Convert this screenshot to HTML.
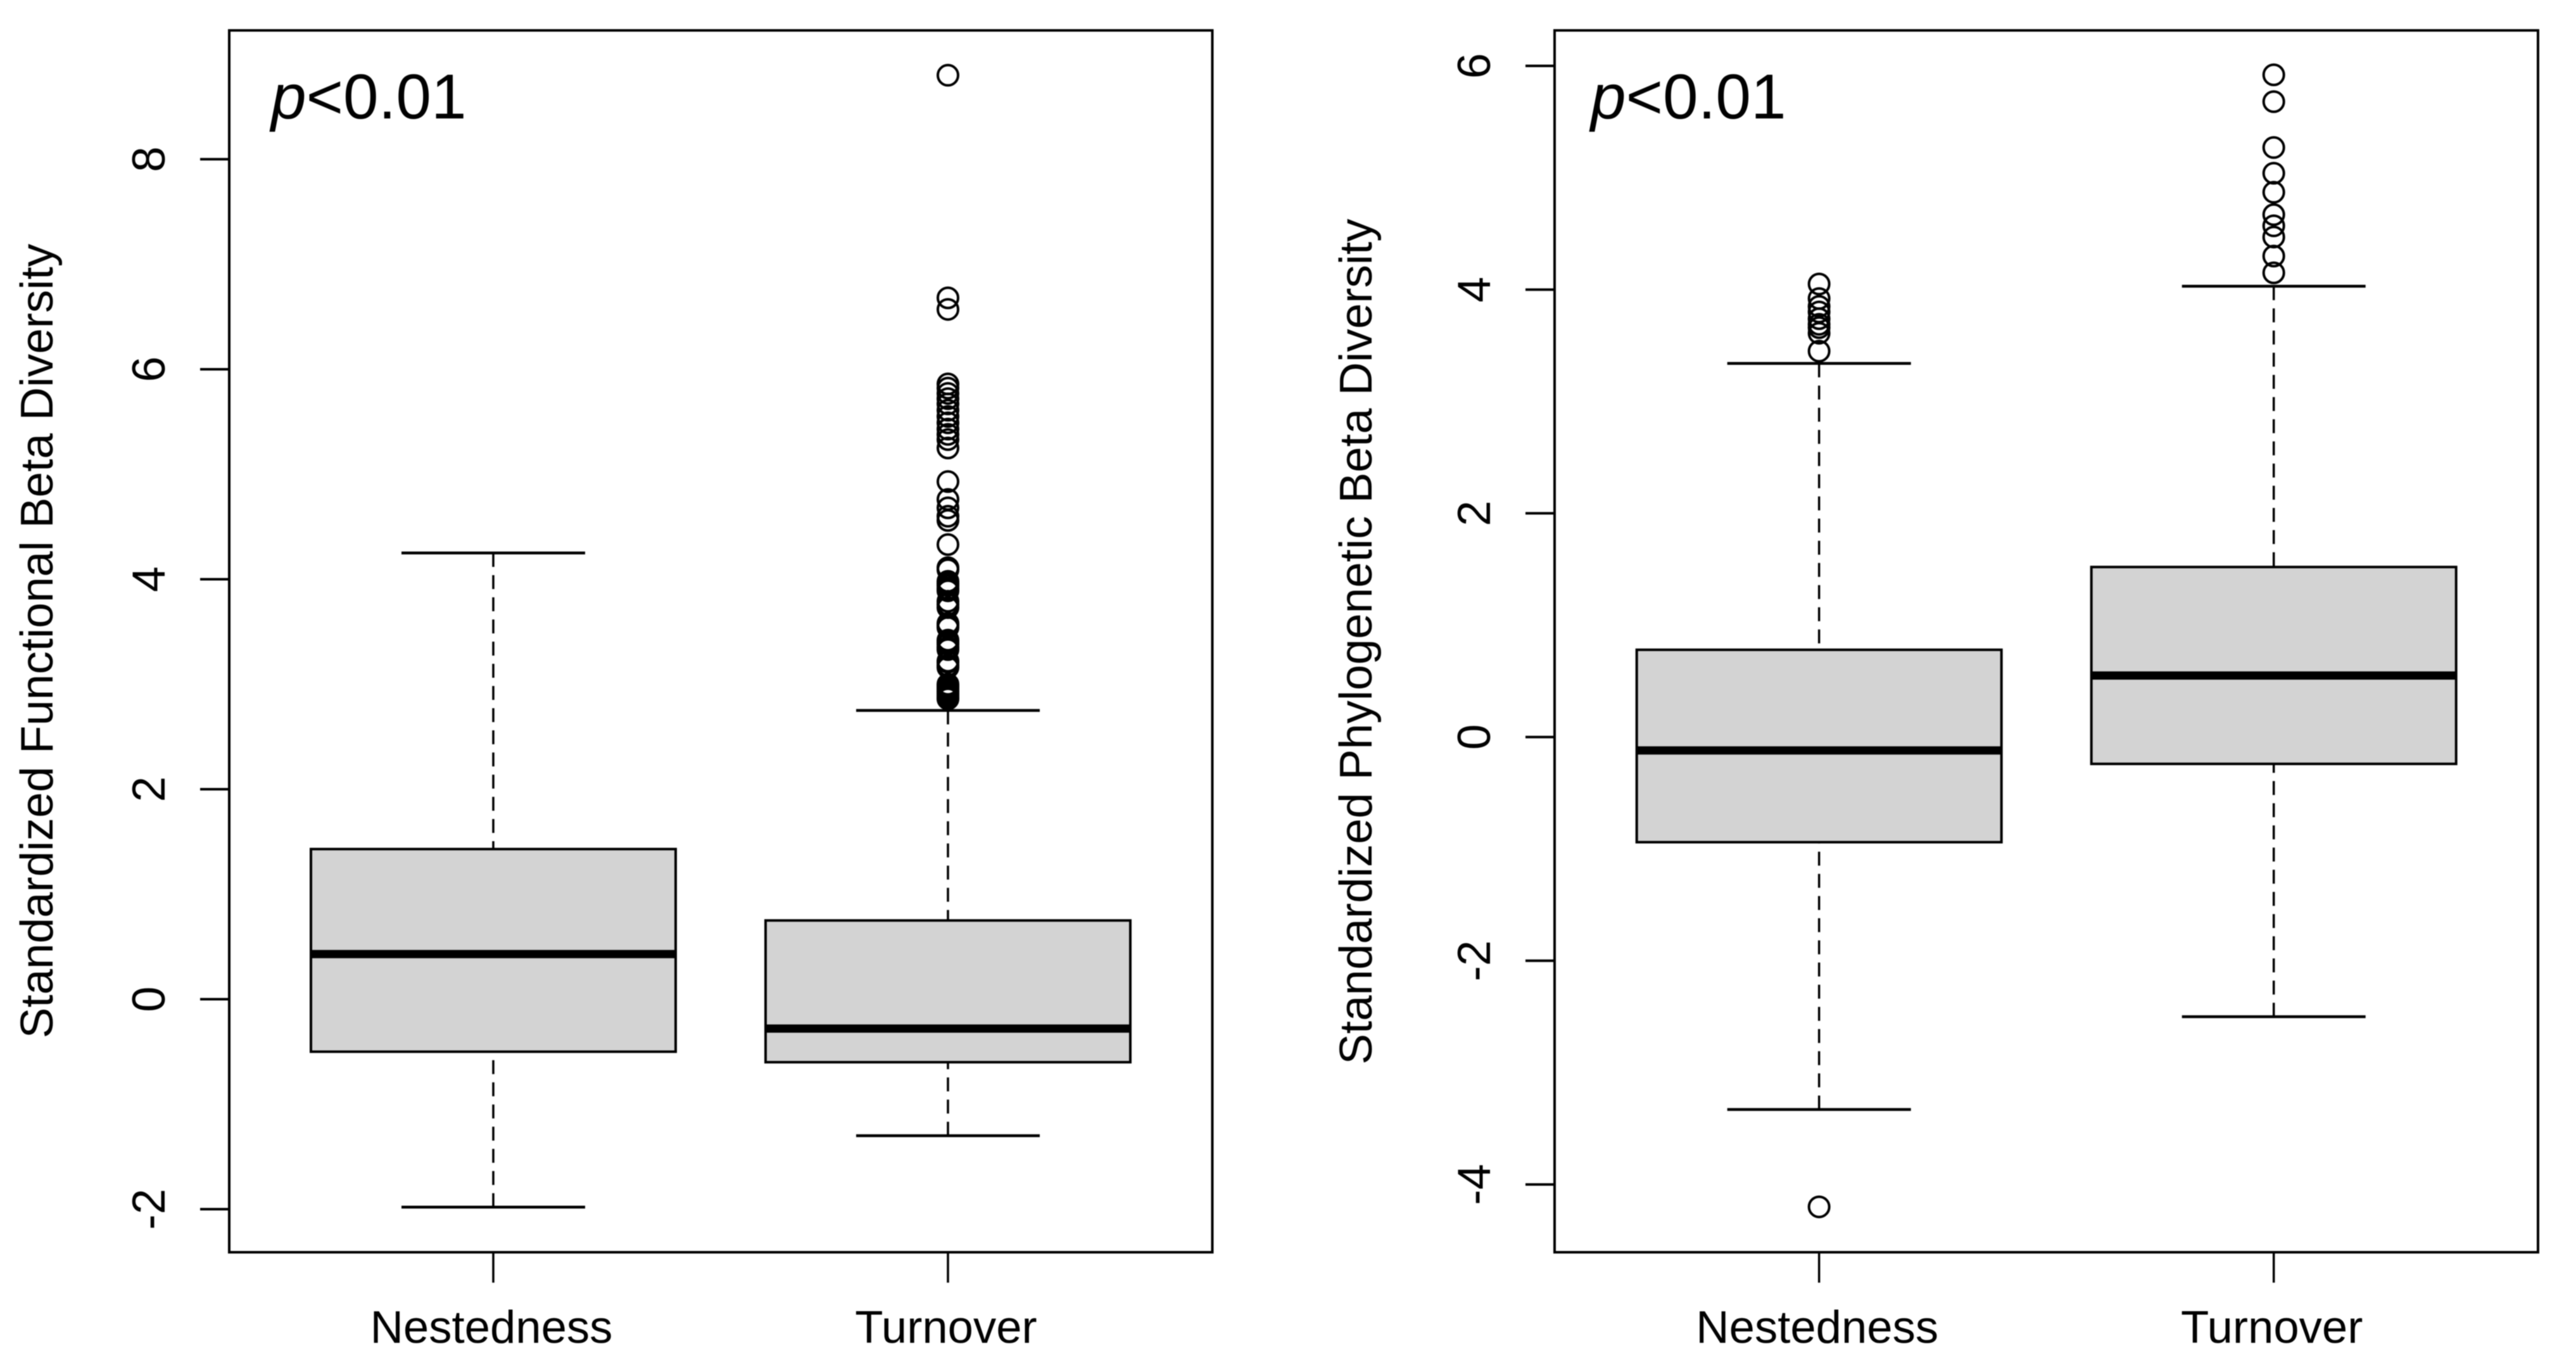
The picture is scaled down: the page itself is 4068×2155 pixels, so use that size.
<!DOCTYPE html>
<html lang="en">
<head>
<meta charset="utf-8">
<title>Standardized Beta Diversity Boxplots</title>
<style>
html,body{margin:0;padding:0;background:#fff;width:4068px;height:2155px;overflow:hidden}
svg{display:block;filter:blur(0.7px)}
text{font-family:"Liberation Sans",sans-serif;fill:#000}
</style>
</head>
<body>
<svg id="chart" xmlns="http://www.w3.org/2000/svg" width="4068" height="2155" viewBox="0 0 4068 2155"></svg>
<script>
// ---- Shared categories ----
const categories = ["Nestedness", "Turnover"];

// ---- Functional panel data ----
const funcTicks = [-2, 0, 2, 4, 6, 8];
const funcTickLabels = ["-2", "0", "2", "4", "6", "8"];
const funcLowWhisker = [-1.98, -1.30];
const funcQ1 = [-0.50, -0.60];
const funcMedian = [0.43, -0.28];
const funcQ3 = [1.43, 0.75];
const funcHighWhisker = [4.25, 2.75];
const funcOutliersNestedness = [];
const funcOutliersTurnover = [8.80, 6.68, 6.57, 5.86, 5.82, 5.77, 5.72, 5.67, 5.61, 5.55, 5.49, 5.43, 5.38, 5.33, 5.25,
  4.93, 4.76, 4.68, 4.60, 4.56, 4.33, 4.11, 4.09, 3.98, 3.96, 3.94, 3.91, 3.89, 3.79, 3.76, 3.73, 3.58, 3.56, 3.54,
  3.42, 3.40, 3.38, 3.35, 3.33, 3.22, 3.21, 3.18, 3.16, 3.00, 2.98, 2.97, 2.95, 2.93, 2.91, 2.89, 2.87, 2.86];

// ---- Phylogenetic panel data ----
const phyloTicks = [-4, -2, 0, 2, 4, 6];
const phyloTickLabels = ["-4", "-2", "0", "2", "4", "6"];
const phyloLowWhisker = [-3.33, -2.50];
const phyloQ1 = [-0.94, -0.24];
const phyloMedian = [-0.12, 0.55];
const phyloQ3 = [0.78, 1.52];
const phyloHighWhisker = [3.34, 4.03];
const phyloOutliersNestedness = [4.05, 3.92, 3.85, 3.80, 3.74, 3.69, 3.66, 3.61, 3.45, -4.20];
const phyloOutliersTurnover = [5.92, 5.68, 5.27, 5.04, 4.87, 4.67, 4.57, 4.47, 4.30, 4.15];

const svg = document.getElementById('chart');
const NS = 'http://www.w3.org/2000/svg';

function makeLine(parent, x1, y1, x2, y2, width, dash, name) {
  const el = document.createElementNS(NS, 'line');
  el.setAttribute('x1', x1);
  el.setAttribute('y1', y1);
  el.setAttribute('x2', x2);
  el.setAttribute('y2', y2);
  el.setAttribute('stroke', '#000');
  el.setAttribute('stroke-width', width);
  if (dash) el.setAttribute('stroke-dasharray', dash);
  
  
  parent.appendChild(el);
  return el;
}

function makeText(parent, x, y, size, content, rotate, name) {
  const el = document.createElementNS(NS, 'text');
  el.setAttribute('x', x);
  el.setAttribute('y', y);
  el.setAttribute('font-size', size);
  el.setAttribute('text-anchor', 'middle');
  if (rotate) el.setAttribute('transform', 'rotate(-90 ' + x + ' ' + y + ')');
  el.textContent = content;
  
  
  parent.appendChild(el);
  return el;
}

function drawPanel(cfg) {
  const g = document.createElementNS(NS, 'g');
  
  
  svg.appendChild(g);

  const yScale = v => cfg.zeroY - v * cfg.unitY;
  const xScale = i => cfg.firstX + i * 718;

  categories.forEach((cat, i) => {
    const cx = xScale(i);
    const slug = cat.toLowerCase();
    makeLine(g, cx, yScale(cfg.high[i]), cx, yScale(cfg.q3[i]), 3.5, '22 13', slug + '-upper-whisker');
    makeLine(g, cx, yScale(cfg.low[i]), cx, yScale(cfg.q1[i]), 3.5, '22 13', slug + '-lower-whisker');
    makeLine(g, cx - 145, yScale(cfg.high[i]), cx + 145, yScale(cfg.high[i]), 4.5, null, slug + '-upper-cap');
    makeLine(g, cx - 145, yScale(cfg.low[i]), cx + 145, yScale(cfg.low[i]), 4.5, null, slug + '-lower-cap');

    const box = document.createElementNS(NS, 'rect');
    box.setAttribute('x', cx - 288);
    box.setAttribute('y', yScale(cfg.q3[i]));
    box.setAttribute('width', 576);
    box.setAttribute('height', yScale(cfg.q1[i]) - yScale(cfg.q3[i]));
    box.setAttribute('fill', '#d3d3d3');
    box.setAttribute('stroke', '#000');
    box.setAttribute('stroke-width', 4);
    
    
    g.appendChild(box);

    makeLine(g, cx - 288, yScale(cfg.median[i]), cx + 288, yScale(cfg.median[i]), 13, null, slug + '-median');

    cfg.outliers[i].forEach(v => {
      const pt = document.createElementNS(NS, 'circle');
      pt.setAttribute('cx', cx);
      pt.setAttribute('cy', yScale(v));
      pt.setAttribute('r', 16);
      pt.setAttribute('fill', 'none');
      pt.setAttribute('stroke', '#000');
      pt.setAttribute('stroke-width', 4);
      
      
      g.appendChild(pt);
    });

    makeLine(g, cx, cfg.bottom, cx, cfg.bottom + 48, 3.5, null, slug + '-x-tick');
    makeText(g, cx - 3, 2120, 72.5, cat, false, slug + '-x-label');
  });

  const frame = document.createElementNS(NS, 'rect');
  frame.setAttribute('x', cfg.left);
  frame.setAttribute('y', cfg.top);
  frame.setAttribute('width', cfg.right - cfg.left);
  frame.setAttribute('height', cfg.bottom - cfg.top);
  frame.setAttribute('fill', 'none');
  frame.setAttribute('stroke', '#000');
  frame.setAttribute('stroke-width', 4);
  
  
  g.appendChild(frame);

  cfg.ticks.forEach((t, i) => {
    makeLine(g, cfg.left - 46, yScale(t), cfg.left, yScale(t), 4, null, 'y-tick');
    makeText(g, cfg.tickLabelX, yScale(t), 73, cfg.tickLabels[i], true, 'y-tick-label');
  });

  makeText(g, cfg.titleX, cfg.titleY, 72.8, cfg.title, true, 'y-axis-title');

  const p = document.createElementNS(NS, 'text');
  p.setAttribute('x', cfg.pX);
  p.setAttribute('y', 187);
  p.setAttribute('font-size', 100);
  const pi = document.createElementNS(NS, 'tspan');
  pi.setAttribute('font-style', 'italic');
  pi.textContent = 'p';
  p.appendChild(pi);
  p.appendChild(document.createTextNode('<0.01'));
  
  
  g.appendChild(p);
}

drawPanel({
  name: 'functional-panel', title: 'Standardized Functional Beta Diversity',
  left: 362, right: 1914.5, top: 48, bottom: 1977, zeroY: 1577.5, unitY: 165.76, firstX: 779,
  tickLabelX: 260, titleX: 83, titleY: 1012, pX: 428,
  ticks: funcTicks, tickLabels: funcTickLabels,
  low: funcLowWhisker, q1: funcQ1, median: funcMedian, q3: funcQ3, high: funcHighWhisker,
  outliers: [funcOutliersNestedness, funcOutliersTurnover]
});

drawPanel({
  name: 'phylogenetic-panel', title: 'Standardized Phylogenetic Beta Diversity',
  left: 2455, right: 4008, top: 48, bottom: 1977, zeroY: 1163.6, unitY: 176.6, firstX: 2872.7,
  tickLabelX: 2353, titleX: 2166, titleY: 1013, pX: 2512,
  ticks: phyloTicks, tickLabels: phyloTickLabels,
  low: phyloLowWhisker, q1: phyloQ1, median: phyloMedian, q3: phyloQ3, high: phyloHighWhisker,
  outliers: [phyloOutliersNestedness, phyloOutliersTurnover]
});
</script>
</body>
</html>
